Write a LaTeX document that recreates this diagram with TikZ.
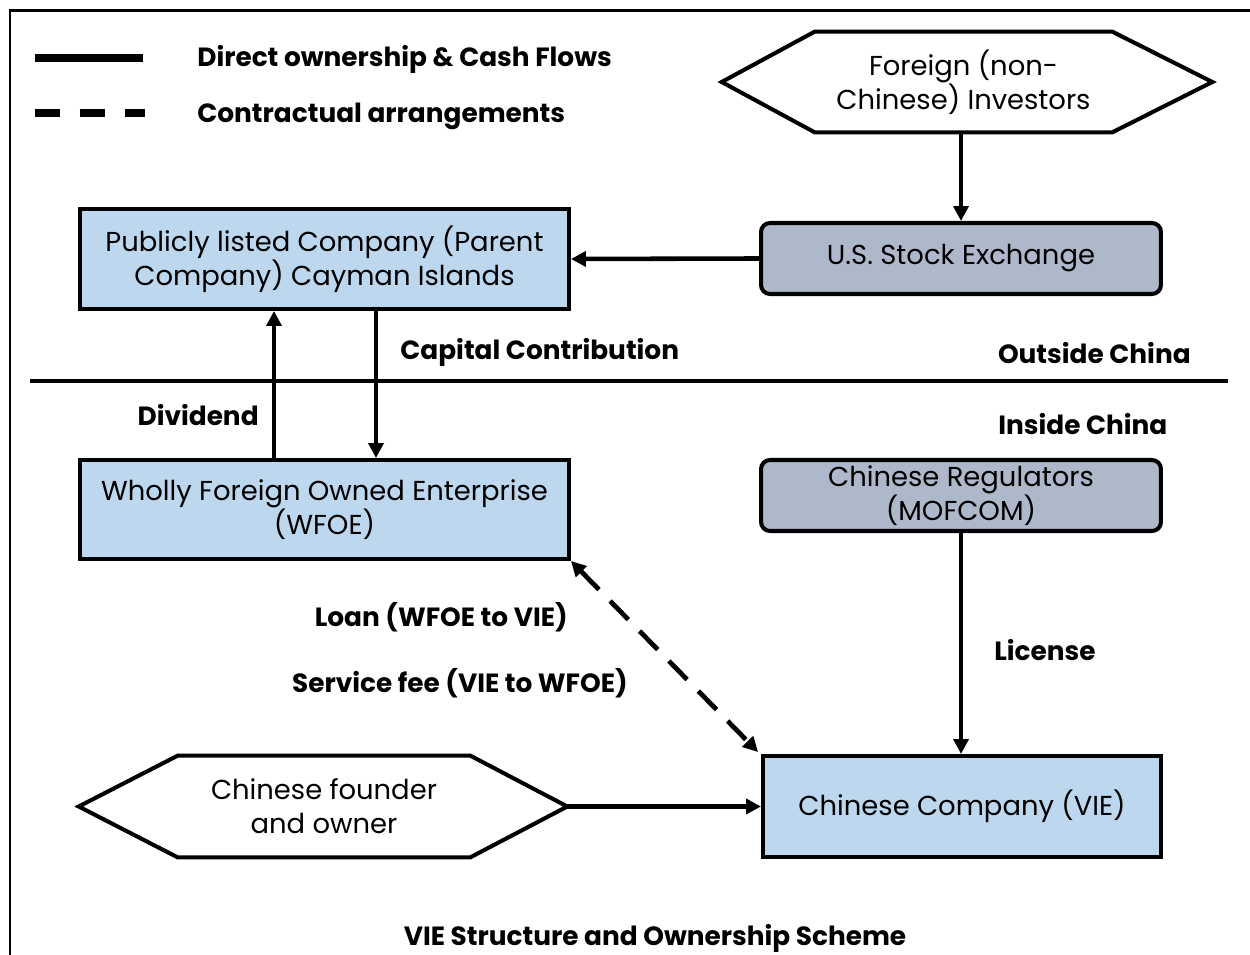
\documentclass[tikz,border=0pt]{standalone}
\usepackage{fontspec}
\setmainfont{Poppins}
\usetikzlibrary{arrows.meta,positioning}

\definecolor{boxblue}{HTML}{BDD7EE}
\definecolor{boxgray}{HTML}{ADB9CA}
\newcommand\boxfont{\fontsize{15.6}{19.4}\selectfont}
\newcommand\labfont{\bfseries\fontsize{15}{17}\selectfont}

\tikzset{
  firm/.style={draw, line width=2.3pt, fill=boxblue, align=center, font=\boxfont,
    inner sep=0pt, minimum width=9.78cm, minimum height=2cm},
  agency/.style={firm, fill=boxgray, rounded corners=0.18cm,
    minimum width=8cm, minimum height=1.42cm},
  party/.style={align=center, font=\boxfont, inner sep=0pt},
  flow/.style={line width=2.6pt, -{Triangle[length=8.5pt,width=8.5pt]}},
  deal/.style={line width=2.7pt, dash pattern=on 0.52cm off 0.32cm,
    {Triangle[length=8.5pt,width=8.5pt]}-{Triangle[length=8.5pt,width=8.5pt]}},
  lab/.style={font=\labfont, inner sep=0pt, yshift=-0.06cm}
}

\begin{document}
\begin{tikzpicture}[x=0.02cm, y=-0.02cm]
  \useasboundingbox (0,0) rectangle (1250,955);
  % frame
  \draw[line width=1.7pt] (10,955) -- (10,11) -- (1250,11);

  % legend
  \draw[line width=4pt] (35,58) -- (143,58);
  \draw[line width=4pt, dash pattern=on 0.5cm off 0.4cm] (35,113) -- (145,113);
  \node[lab, anchor=west] (keydirect) at (197,56) {Direct ownership \& Cash Flows};
  \node[lab, anchor=west] (keydeal) at (197,113) {Contractual arrangements};

  % outside China
  \node[party, minimum width=5.94cm, minimum height=2cm] (inv) at (963.5,82)
    {Foreign (non-\\Chinese) Investors};
  \coordinate (invl) at ([xshift=-1.86cm]inv.west);
  \coordinate (invr) at ([xshift=2cm]inv.east);
  \draw[line width=2.3pt] (invl) -- (inv.north west) -- (inv.north east) -- (invr)
    -- (inv.south east) -- (inv.south west) -- cycle;
  \node[agency] (us) at (961,258.5) {U.S. Stock Exchange};
  \node[firm] (parent) at (324.5,259)
    {Publicly listed Company (Parent\\Company) Cayman Islands};

  % border line
  \draw[line width=2.8pt] (30,381) -- (1228,381);
  \node[lab, anchor=east] (outside) at (1191,350) {Outside China};
  \node[lab, anchor=west] (inside) at (998,421) {Inside China};

  % inside China
  \node[firm, minimum height=1.98cm] (wfoe) at (324.5,509.5)
    {Wholly Foreign Owned Enterprise\\(WFOE)};
  \node[agency] (reg) at (961,495.5) {Chinese Regulators\\(MOFCOM)};
  \node[firm, minimum width=7.96cm, minimum height=2.02cm] (vie) at (962,806.5)
    {Chinese Company (VIE)};
  \node[party, minimum width=5.84cm, minimum height=2.02cm] (founder) at (324,806.5)
    {Chinese founder\\and owner};
  \coordinate (fl) at ([xshift=-1.98cm]founder.west);
  \coordinate (fr) at ([xshift=1.94cm]founder.east);
  \draw[line width=2.3pt] (fl) -- (founder.north west) -- (founder.north east) -- (fr)
    -- (founder.south east) -- (founder.south west) -- cycle;

  % flows
  \draw[flow] (us.north |- inv.south) -- (us.north);
  \draw[flow] (us.west) -- (parent.east);
  \draw[flow] ([xshift=-1.01cm]wfoe.north) -- ([xshift=-1.01cm]parent.south);
  \draw[flow] ([xshift=1.03cm]parent.south) -- ([xshift=1.03cm]wfoe.north);
  \draw[flow] (reg.south) -- (reg.south |- vie.north);
  \draw[flow] (fr) -- (vie.west);
  \draw[deal] (wfoe.south east) -- ([shift={(-0.06cm,0.04cm)}]vie.north west);

  % labels
  \node[lab, anchor=west] (capital) at (400,349) {Capital Contribution};
  \node[lab, anchor=east] (dividend) at (259,412) {Dividend};
  \node[lab, anchor=west] (license) at (994,647) {License};
  \node[lab, anchor=east] (loan) at (568,614) {Loan (WFOE to VIE)};
  \node[lab, anchor=east] (fee) at (628,680) {Service fee (VIE to WFOE)};
  \node[lab] (caption) at (655,935) {VIE Structure and Ownership Scheme};
\end{tikzpicture}
\end{document}
